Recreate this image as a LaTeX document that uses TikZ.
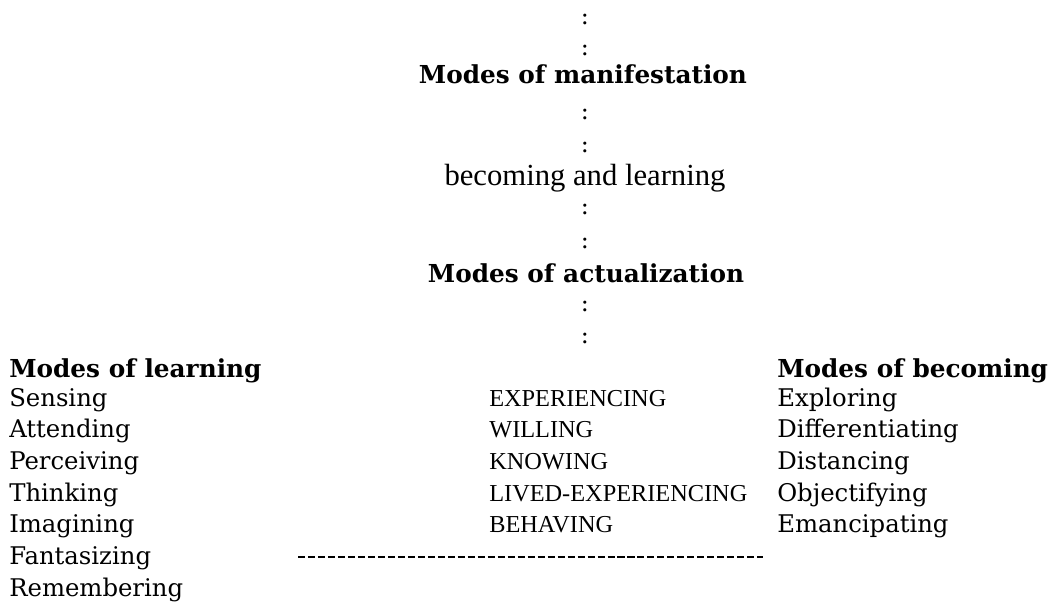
\documentclass[tikz,border=0pt]{standalone}
\usepackage{fontspec}
\newfontfamily\capsfont{Liberation Serif}
\newfontfamily\modefont{DejaVu Serif}
\usetikzlibrary{calc}
\usetikzlibrary{positioning}

\begin{document}
\begin{tikzpicture}[x=0.025cm, y=-0.025cm,
    head/.style={anchor=base, inner sep=0pt, font=\modefont\bfseries\fontsize{17.6}{20}\selectfont},
    mode/.style={anchor=base west, inner sep=0pt, font=\modefont\fontsize{17.3}{20}\selectfont},
    act/.style={anchor=base west, inner sep=0pt, font=\capsfont\fontsize{17.3}{20}\selectfont},
    dots/.style={anchor=base, inner sep=0pt, font=\modefont\fontsize{17}{20}\selectfont}]
        \useasboundingbox (0,0) rectangle (1054,605);
        % vertical chain in the middle
        \foreach \y[count=\i from 1] in {24, 55, 119, 152, 214, 248, 311, 343}
        {
            \node[dots] (c\i) at (585, \y) {:};
        }
        \node[head] (manif) at (583, 83) {Modes of manifestation};
        \node[anchor=base, inner sep=0pt, font=\capsfont\fontsize{21.8}{24}\selectfont] (becl) at (585, 185) {becoming and learning};
        \node[head] (actu) at (586, 282) {Modes of actualization};

        % modes of learning
        \node[head, anchor=base west] (learn) at (9, 377) {Modes of learning};
        \coordinate (A) at (9, 406);
        \def\L{Sensing, Attending, Perceiving, Thinking, Imagining, Fantasizing, Remembering}
        \foreach \x[count=\i from 1] in \L
        {
            \node[mode] (l\i) at (A) {\x};
            \coordinate (A) at ($(A) + (0, 31.67)$);
        }

        % actualization
        \coordinate (A) at (489, 406);
        \def\M{EXPERIENCING, WILLING, KNOWING, LIVED-EXPERIENCING, BEHAVING}
        \foreach \x[count=\i from 1] in \M
        {
            \node[act] (m\i) at (A) {\x};
            \coordinate (A) at ($(A) + (0, 31.67)$);
        }

        % modes of becoming
        \node[head, anchor=base west] (becom) at (777, 377) {Modes of becoming};
        \coordinate (A) at (777, 406);
        \def\B{Exploring, Differentiating, Distancing, Objectifying, Emancipating}
        \foreach \x[count=\i from 1] in \B
        {
            \node[mode] (b\i) at (A) {\x};
            \coordinate (A) at ($(A) + (0, 31.67)$);
        }

        \coordinate (dl) at (298, 557);
        \coordinate (dr) at (763, 557);
        \draw[line width=1.2pt, dash pattern=on 5pt off 2.1pt] (dl) -- (dr);
    \end{tikzpicture}
\end{document}
